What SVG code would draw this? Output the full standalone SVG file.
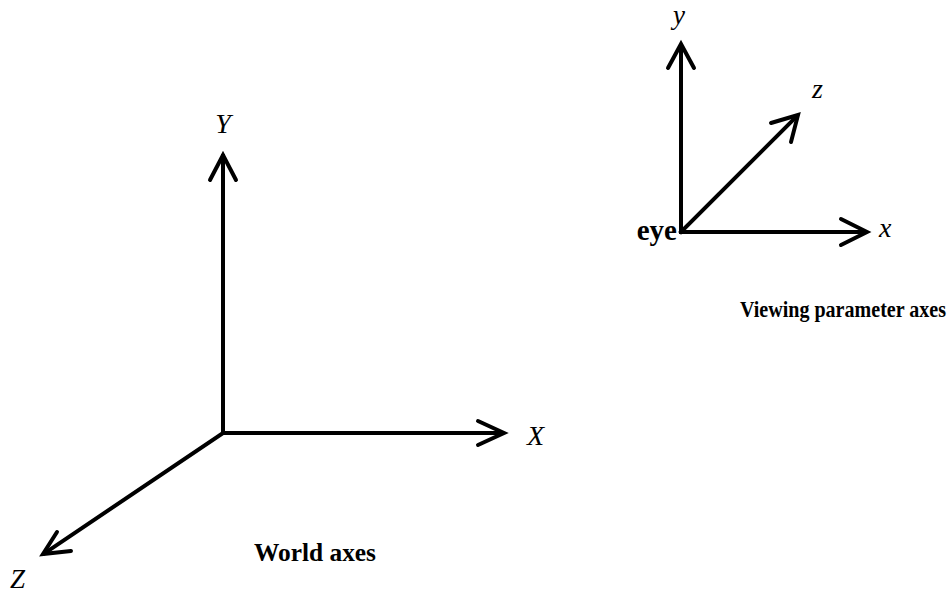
<svg xmlns="http://www.w3.org/2000/svg" width="952" height="594" viewBox="0 0 952 594">
<style>
.ax{stroke:#000;stroke-width:4;fill:none;stroke-linecap:square}
.hd{stroke:#000;stroke-width:4;fill:none;stroke-linecap:round;stroke-linejoin:miter}
.lb{font-family:"Liberation Serif","Times New Roman",serif;font-style:italic;font-size:28px;fill:#000}
.bd{font-family:"Liberation Serif","Times New Roman",serif;font-weight:bold;font-size:26px;fill:#000}
</style>
<rect width="952" height="594" fill="#fff"/>
<g id="connectors">
<line class="ax" x1="223" y1="433" x2="223" y2="156"/>
<polyline class="hd" points="210,180 223,155 236,180"/>
<line class="ax" x1="223" y1="433" x2="502" y2="433"/>
<polyline class="hd" points="478,421 504,433 478,445"/>
<line class="ax" x1="223" y1="433" x2="45" y2="553"/>
<polyline class="hd" points="57,532 43,554 71,551"/>
<line class="ax" x1="681" y1="232" x2="681" y2="46"/>
<polyline class="hd" points="668,68 681,44 694,68"/>
<line class="ax" x1="681" y1="232" x2="865" y2="232"/>
<polyline class="hd" points="841,219 867,232 841,245"/>
<line class="ax" x1="681" y1="232" x2="796" y2="117"/>
<polyline class="hd" points="771,123 798,115 791,142"/>
</g>
<g id="world">
<text class="lb" x="223" y="133" text-anchor="middle">Y</text>
<text class="lb" x="527" y="445">X</text>
<text class="lb" x="10" y="588" style="font-size:27px">Z</text>
<text class="bd" x="254" y="561" textLength="122" lengthAdjust="spacingAndGlyphs">World axes</text>
</g>
<g id="viewing">
<text class="lb" x="679" y="24" text-anchor="middle" style="font-size:27px">y</text>
<text class="lb" x="812" y="98">z</text>
<text class="lb" x="879" y="237">x</text>
<text class="bd" x="677" y="240" text-anchor="end" style="font-size:29px">eye</text>
<text class="bd" x="740" y="317" style="font-size:24px" textLength="206" lengthAdjust="spacingAndGlyphs">Viewing parameter axes</text>
</g>
</svg>
